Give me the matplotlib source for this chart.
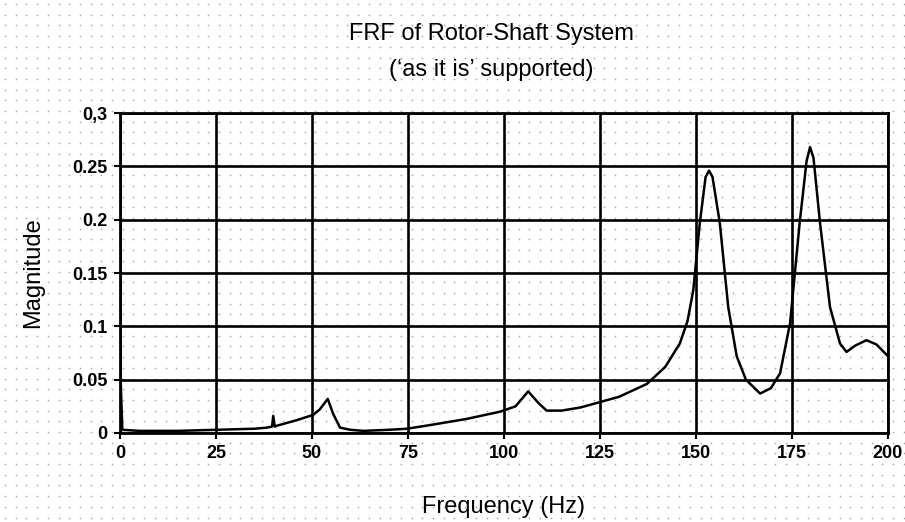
import numpy as np
import matplotlib.pyplot as plt

# Frequency response
freq = [0, 0.01, 0.6, 5, 15, 25, 35, 38.2, 39.6, 39.9, 40.3, 41, 46, 50.3, 52,
        54.1, 55.5, 57.3, 60, 63.4, 70, 74.7, 80, 90, 99, 103, 106.3, 109,
        111.1, 115, 120, 125, 130, 137.2, 142, 145.8, 147.8, 149.3, 151,
        152.5, 153.4, 154.3, 156.2, 158.4, 160.6, 163, 166.7, 169.5, 171.9,
        174.5, 177, 178.8, 179.7, 180.6, 182.3, 184.9, 187.5, 189.2, 191.5,
        194.4, 197, 200]
mag = [0, 0.067, 0.003, 0.002, 0.002, 0.003, 0.004, 0.005, 0.006, 0.016,
       0.006, 0.007, 0.012, 0.017, 0.022, 0.032, 0.018, 0.005, 0.003, 0.002,
       0.003, 0.004, 0.007, 0.013, 0.020, 0.025, 0.039, 0.028, 0.021, 0.021,
       0.024, 0.029, 0.034, 0.046, 0.062, 0.084, 0.105, 0.134, 0.197, 0.240,
       0.246, 0.240, 0.197, 0.118, 0.072, 0.050, 0.037, 0.042, 0.056, 0.103,
       0.197, 0.255, 0.268, 0.258, 0.197, 0.118, 0.084, 0.076, 0.082, 0.087,
       0.083, 0.072]

xticks = [0, 25, 50, 75, 100, 125, 150, 175, 200]
yticks = [0, 0.05, 0.1, 0.15, 0.2, 0.25, 0.3]
ytick_labels = ["0", "0.05", "0.1", "0.15", "0.2", "0.25", "0,3"]

plt.rcParams['font.family'] = ['Liberation Sans', 'DejaVu Sans']

fig = plt.figure(figsize=(9.05, 5.22), dpi=100)
fig.patch.set_facecolor("white")

# scanned-paper dot texture
bg = fig.add_axes([0, 0, 1, 1], zorder=-10)
gx, gy = np.meshgrid(np.arange(5, 905, 10.7), np.arange(4, 522, 10.7))
bg.scatter(gx.ravel(), gy.ravel(), s=1.5, color="#a8a8a8", linewidths=0)
bg.set_xlim(0, 905)
bg.set_ylim(522, 0)
bg.axis("off")

ax = fig.add_axes([0.1326, 0.1705, 0.8486, 0.613])
ax.patch.set_alpha(0)
ax.plot(freq, mag, color="black", lw=1.8, zorder=3)

ax.set_xlim(0, 200)
ax.set_ylim(0, 0.3)
ax.set_xticks(xticks)
ax.set_yticks(yticks)
ax.set_yticklabels(ytick_labels)
ax.grid(True, color="black", lw=1.9)
ax.tick_params(length=4, width=1.5, labelsize=13, pad=5)
for lab in ax.get_xticklabels() + ax.get_yticklabels():
    lab.set_fontweight("bold")
for s in ax.spines.values():
    s.set_linewidth(2)

ax.set_xlabel("Frequency (Hz)", fontsize=17, labelpad=24)
ax.set_ylabel("Magnitude", fontsize=17, labelpad=20)
fig.text(0.543, 0.935, "FRF of Rotor-Shaft System", ha="center", va="center", fontsize=17)
fig.text(0.543, 0.865, "(\u2018as it is\u2019 supported)", ha="center", va="center", fontsize=17)

fig.savefig("out.png", dpi=100)
